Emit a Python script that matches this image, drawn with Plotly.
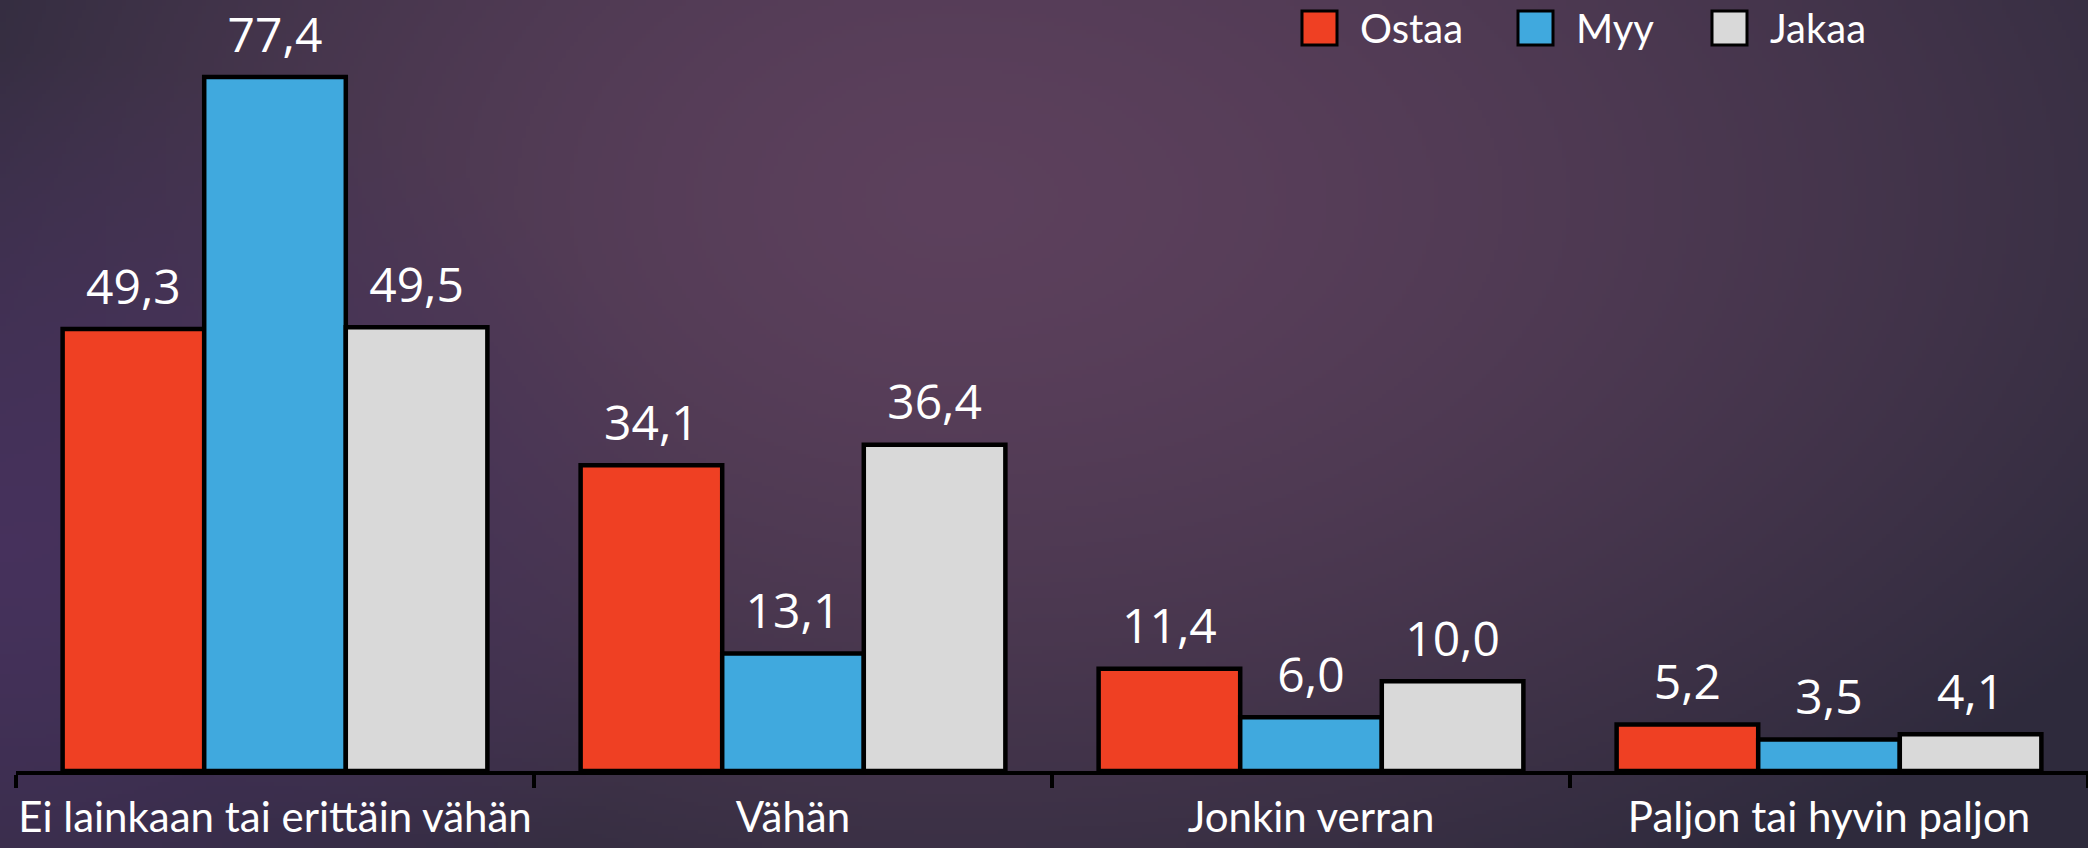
import base64
import struct
import zlib

import numpy as np
import plotly.graph_objects as go

# ---------------- data ----------------
categories = ["Ei lainkaan tai erittäin vähän", "Vähän", "Jonkin verran", "Paljon tai hyvin paljon"]
series_names = ["Ostaa", "Myy", "Jakaa"]
ostaa = [49.3, 34.1, 11.4, 5.2]
myy = [77.4, 13.1, 6.0, 3.5]
jakaa = [49.5, 36.4, 10.0, 4.1]
series_values = [ostaa, myy, jakaa]
series_colors = ["#EF4023", "#40A9DE", "#D9D9D9"]

# ---------------- geometry ----------------
W, H = 2088, 848
ML, MR, MT, MB = 16, 0, 0, 77
PW, PH = W - ML - MR, H - MT - MB


def fmt(v):
    return f"{v:.1f}".replace(".", ",")


# ---------------- background gradient (generated PNG) ----------------
def gradient_uri():
    gw, gh = 522, 212
    xs = (np.arange(gw) + 0.5) * W / gw
    ys = (np.arange(gh) + 0.5) * H / gh
    X, Y = np.meshgrid(xs, ys)
    base = np.array([46, 42, 60], float)
    c1 = np.array([92, 64, 92], float)
    cx, cy = 950, 200
    rx = np.where(X < cx, 1100.0, 1400.0)
    d1 = np.sqrt(((X - cx) / rx) ** 2 + ((Y - cy) / 800) ** 2)
    w1 = np.clip(1 - d1 ** 1.5, 0, 1)
    img = base + w1[..., None] * (c1 - base)
    c2 = np.array([72, 50, 95], float)
    d2 = np.sqrt((X / 700) ** 2 + ((Y - 550) / 500) ** 2)
    w2 = 0.9 * np.clip(1 - d2 ** 1.5, 0, 1)
    img = img + w2[..., None] * (c2 - img)
    arr = np.clip(np.round(img), 0, 255).astype(np.uint8)
    raw = b"".join(b"\x00" + arr[r].tobytes() for r in range(gh))

    def chunk(t, d):
        c = struct.pack(">I", len(d)) + t + d
        return c + struct.pack(">I", zlib.crc32(t + d) & 0xFFFFFFFF)

    png = (b"\x89PNG\r\n\x1a\n"
           + chunk(b"IHDR", struct.pack(">IIBBBBB", gw, gh, 8, 2, 0, 0, 0))
           + chunk(b"IDAT", zlib.compress(raw, 9))
           + chunk(b"IEND", b""))
    return "data:image/png;base64," + base64.b64encode(png).decode()


fig = go.Figure()

for name, vals, col in zip(series_names, series_values, series_colors):
    fig.add_trace(go.Bar(
        name=name, x=categories, y=vals,
        marker=dict(color=col, line=dict(color="black", width=4.5)),
        showlegend=False, hoverinfo="skip",
    ))

for name, vals in zip(series_names, series_values):
    fig.add_trace(go.Scatter(
        name=name + " labels", x=categories, y=vals,
        mode="markers+text", marker=dict(size=20, opacity=0),
        text=[fmt(v) for v in vals], textposition="top center",
        textfont=dict(family="Open Sans", size=48, color="white"),
        showlegend=False, hoverinfo="skip", cliponaxis=False,
    ))

# manual legend (large swatches)
shapes = []
annotations = []
legend_px = [1302, 1518, 1712]  # swatch left edges (px)
for name, col, lx in zip(series_names, series_colors, legend_px):
    x0 = (lx - ML) / PW
    x1 = (lx + 35 - ML) / PW
    y0 = (PH - 45) / PH
    y1 = (PH - 11) / PH
    shapes.append(dict(type="rect", xref="paper", yref="paper", x0=x0, x1=x1, y0=y0, y1=y1,
                       fillcolor=col, line=dict(color="black", width=3)))
    annotations.append(dict(xref="paper", yref="paper", x=(lx + 56 - ML) / PW, y=(PH - 28) / PH,
                            xanchor="left", yanchor="middle", showarrow=False, text=name,
                            font=dict(family="Lato", size=40, color="white")))

fig.update_layout(
    width=W, height=H,
    margin=dict(l=ML, r=MR, t=MT, b=MB, autoexpand=False),
    paper_bgcolor="#2E2A3C", plot_bgcolor="rgba(0,0,0,0)",
    barmode="group", bargap=0.18, bargroupgap=0,
    scattermode="group", scattergap=0.18,
    showlegend=False,
    shapes=shapes, annotations=annotations,
    images=[dict(source=gradient_uri(), xref="paper", yref="paper",
                 x=-ML / PW, y=1 + MT / PH, sizex=W / PW, sizey=H / PH,
                 xanchor="left", yanchor="top", sizing="stretch", layer="below")],
    xaxis=dict(
        showline=True, linecolor="black", linewidth=4,
        ticks="outside", tickson="boundaries", ticklen=13, tickwidth=4, tickcolor="black",
        tickangle=0, ticklabelstandoff=7,
        tickfont=dict(family="Lato", size=42, color="white"),
        showgrid=False, zeroline=False, automargin=False,
    ),
    yaxis=dict(range=[0, 86.0], visible=False, showgrid=False, zeroline=False, automargin=False),
)

fig.write_html(
    "out.html",
    config={"displayModeBar": False, "staticPlot": True},
    post_script="document.body.style.margin='0';document.body.style.overflow='hidden';",
)
